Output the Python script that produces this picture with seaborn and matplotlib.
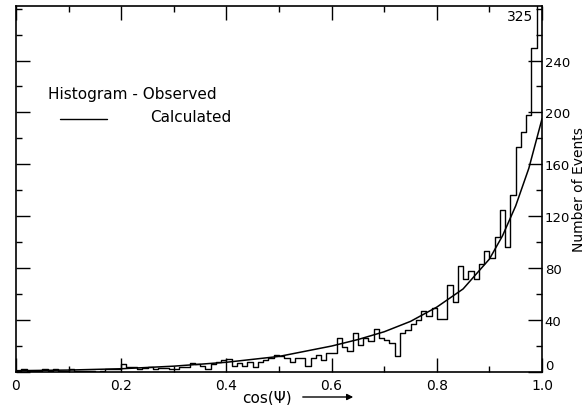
import numpy as np
import pandas as pd
import matplotlib
matplotlib.use("Agg")
import matplotlib.pyplot as plt
import seaborn as sns
from matplotlib.ticker import MultipleLocator

# ---- data ----
bin_edges = [i / 100 for i in range(101)]
observed = [1, 2, 1, 1, 1, 2, 1, 2, 1, 1,
            2, 1, 1, 1, 1, 0, 1, 2, 2, 2,
            6, 4, 4, 2, 3, 4, 2, 3, 3, 2,
            2, 4, 4, 7, 6, 5, 2, 6, 8, 9,
            10, 5, 7, 5, 8, 4, 8, 9, 11, 13,
            12, 11, 8, 11, 11, 5, 11, 13, 9, 15,
            15, 26, 19, 16, 30, 21, 26, 24, 33, 26,
            25, 22, 12, 30, 32, 37, 40, 47, 43, 49,
            41, 41, 67, 54, 82, 72, 78, 72, 83, 93,
            88, 104, 125, 96, 136, 173, 185, 198, 250, 325]
calc_x = [0.0, 0.1, 0.2, 0.3, 0.4, 0.5, 0.55, 0.6, 0.65, 0.7, 0.75,
          0.8, 0.85, 0.9, 0.925, 0.95, 0.975, 1.0]
calc_y = [1, 1.5, 2.5, 4.5, 7.5, 12, 16, 20, 25, 31, 39,
          50, 64, 87, 105, 128, 157, 195]
x_ticks = [0, 0.2, 0.4, 0.6, 0.8, 1.0]
x_tick_labels = ["0", "0.2", "0.4", "0.6", "0.8", "1.0"]
y_ticks = [0, 40, 80, 120, 160, 200, 240]
top_label = "325"

sns.set_theme(style="ticks")
plt.rcParams["font.family"] = ["DejaVu Sans"]
for k in ["text.color", "axes.labelcolor", "xtick.color", "ytick.color",
          "xtick.labelcolor", "ytick.labelcolor"]:
    plt.rcParams[k] = "black"

centers = [(bin_edges[i] + bin_edges[i + 1]) / 2 for i in range(len(observed))]
df = pd.DataFrame({"x": centers, "n": observed})
cdf = pd.DataFrame({"x": calc_x, "y": calc_y})

fig = plt.figure(figsize=(5.87, 4.06), dpi=100)
ax = fig.add_axes([16 / 587, 1 - 373 / 406, 526 / 587, 366 / 406])

sns.histplot(data=df, x="x", weights="n", bins=bin_edges, element="step",
             fill=False, color="black", linewidth=1.0, ax=ax)
sns.lineplot(data=cdf, x="x", y="y", color="black", linewidth=1.1, ax=ax)

ax.set_xlim(0, 1.0)
ax.set_ylim(0, 282)
ax.set_xticks(x_ticks)
ax.set_xticklabels(x_tick_labels)
ax.xaxis.set_minor_locator(MultipleLocator(0.1))
ax.set_yticks(y_ticks)
ax.yaxis.set_minor_locator(MultipleLocator(20))
ax.yaxis.tick_right()
ax.tick_params(which="both", direction="in", top=True, bottom=True,
               left=True, right=True, labelleft=False, labelright=True,
               color="black", width=1.0)
ax.tick_params(axis="y", pad=2, labelsize=9.5)
ax.tick_params(axis="x", pad=4, labelsize=10)
ax.tick_params(which="major", length=10)
ax.tick_params(which="minor", length=4)
for lab in ax.get_yticklabels():
    if lab.get_text() == "0":
        lab.set_va("bottom")
for s in ax.spines.values():
    s.set_linewidth(1.2)
    s.set_color("black")
    s.set_visible(True)

ax.set_xlabel("")
ax.set_ylabel("")
fig.text(579 / 587, 1 - 190 / 406, "Number of Events", rotation=90,
         fontsize=10, ha="center", va="center")

# legend-like annotations
ax.text(0.061, 0.76, "Histogram - Observed", transform=ax.transAxes,
        fontsize=11, va="center", ha="left")
ax.plot([0.084, 0.173], [0.691, 0.691], transform=ax.transAxes,
        color="black", linewidth=1.0)
ax.text(0.255, 0.697, "Calculated", transform=ax.transAxes,
        fontsize=11, va="center", ha="left")
ax.text(0.983, 0.973, top_label, transform=ax.transAxes,
        fontsize=10, va="center", ha="right")

fig.text(267 / 587, 1 - 398 / 406, "cos(Ψ)", fontsize=11,
         ha="center", va="center")
fig.add_artist(matplotlib.patches.FancyArrowPatch(
    (300 / 587, 1 - 398 / 406), (356 / 587, 1 - 398 / 406),
    transform=fig.transFigure, arrowstyle="-|>", mutation_scale=9,
    color="black", linewidth=1.0))

fig.savefig("out.png", dpi=100)
